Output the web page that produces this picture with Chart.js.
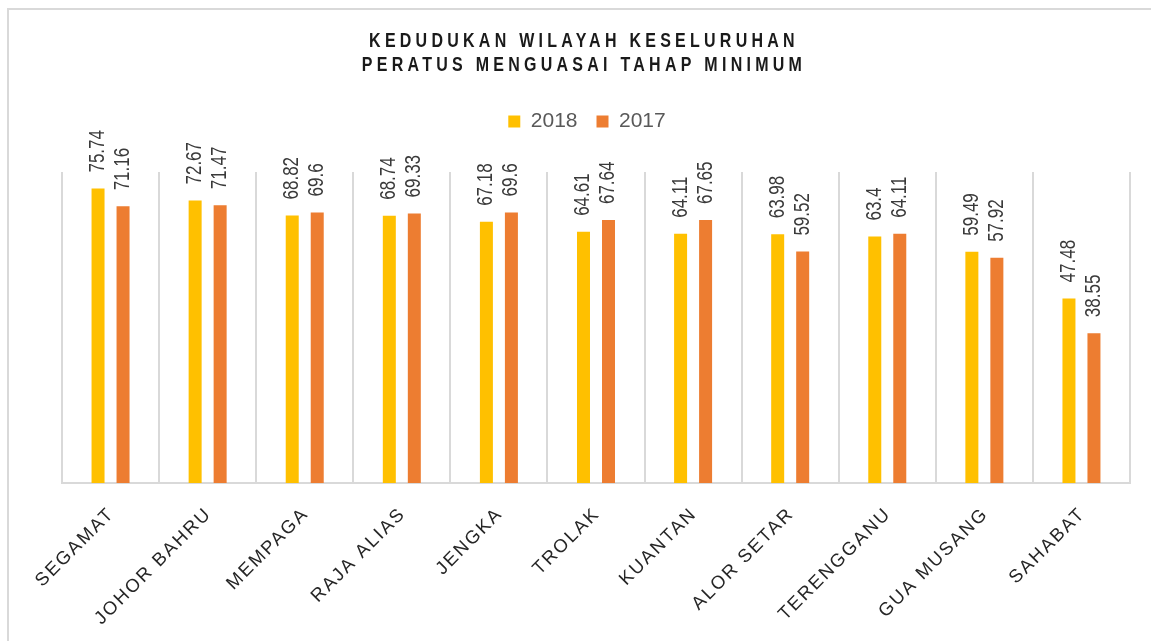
<!DOCTYPE html>
<html>
<head>
<meta charset="utf-8">
<script src="https://cdn.jsdelivr.net/npm/chart.js@4/dist/chart.umd.min.js"></script>
<style>
  html, body { margin: 0; padding: 0; background: #ffffff; overflow: hidden; }
  #wrap { position: relative; width: 1151px; height: 641px; }
</style>
</head>
<body>
<div id="wrap"><canvas id="c"></canvas></div>
<script>
const categories = ['SEGAMAT', 'JOHOR BAHRU', 'MEMPAGA', 'RAJA ALIAS', 'JENGKA', 'TROLAK', 'KUANTAN', 'ALOR SETAR', 'TERENGGANU', 'GUA MUSANG', 'SAHABAT'];
const values2018 = [75.74, 72.67, 68.82, 68.74, 67.18, 64.61, 64.11, 63.98, 63.4, 59.49, 47.48];
const values2017 = [71.16, 71.47, 69.6, 69.33, 69.6, 67.64, 67.65, 59.52, 64.11, 57.92, 38.55];
const seriesNames = ['2018', '2017'];
const titleLines = ['KEDUDUKAN WILAYAH KESELURUHAN', 'PERATUS MENGUASAI TAHAP MINIMUM'];
const yMin = 0;
const yMax = 80;

const SANS = '"Liberation Sans", Arial, sans-serif';

const decorPlugin = {
  id: 'decor',
  beforeLayout(chart) {
    const lg = chart.legend;
    if (lg && !lg._extraPatched) {
      const origFit = lg.fit;
      lg.fit = function () { origFit.call(this); this.height += 30; };
      lg._extraPatched = true;
    }
  },
  afterLayout(chart) {
    const lg = chart.legend;
    if (lg) { lg.left -= 18; }
  },
  beforeDraw(chart) {
    const ctx = chart.ctx;
    ctx.save();
    ctx.fillStyle = '#ffffff';
    ctx.fillRect(0, 0, chart.width, chart.height);
    ctx.strokeStyle = '#d9d9d9';
    ctx.lineWidth = 2;
    ctx.beginPath();
    ctx.moveTo(8, chart.height + 2);
    ctx.lineTo(8, 9);
    ctx.lineTo(chart.width + 2, 9);
    ctx.stroke();
    ctx.restore();
  },
  afterDatasetsDraw(chart) {
    const ctx = chart.ctx;
    ctx.save();
    ctx.fillStyle = '#3a3a3a';
    ctx.font = '21.5px ' + SANS;
    ctx.textAlign = 'left';
    ctx.textBaseline = 'middle';
    chart.data.datasets.forEach((ds, di) => {
      const meta = chart.getDatasetMeta(di);
      meta.data.forEach((bar, i) => {
        ctx.save();
        ctx.translate(bar.x, bar.y - 16);
        ctx.rotate(-Math.PI / 2);
        ctx.scale(0.79, 1);
        ctx.fillText(String(ds.data[i]), 0, 0);
        ctx.restore();
      });
    });
    ctx.restore();
  },
  afterDraw(chart) {
    const ctx = chart.ctx;
    const xs = chart.scales.x;
    // category labels
    ctx.save();
    ctx.fillStyle = '#262626';
    ctx.font = '18.5px ' + SANS;
    ctx.letterSpacing = '2px';
    ctx.textAlign = 'right';
    ctx.textBaseline = 'middle';
    categories.forEach((lab, i) => {
      const x = xs.getPixelForValue(i);
      ctx.save();
      ctx.translate(x + 1, chart.chartArea.bottom + 28);
      ctx.rotate(-Math.PI / 4);
      ctx.fillText(lab, 0, 0);
      ctx.restore();
    });
    ctx.restore();
    // title
    ctx.save();
    ctx.fillStyle = '#1a1a1a';
    ctx.font = 'bold 19.5px ' + SANS;
    ctx.letterSpacing = '5.2px';
    ctx.textAlign = 'center';
    ctx.textBaseline = 'middle';
    const cx = 584;
    [42, 66].forEach((ty, k) => {
      ctx.save();
      ctx.translate(cx, ty);
      ctx.scale(0.82, 1);
      ctx.fillText(titleLines[k], 0, 0);
      ctx.restore();
    });
    ctx.restore();
  }
};

new Chart(document.getElementById('c'), {
  type: 'bar',
  data: {
    labels: categories,
    datasets: [
      { label: seriesNames[0], data: values2018, backgroundColor: '#FFC000', borderWidth: 0,
        categoryPercentage: 0.515, barPercentage: 0.52 },
      { label: seriesNames[1], data: values2017, backgroundColor: '#ED7D31', borderWidth: 0,
        categoryPercentage: 0.515, barPercentage: 0.52 }
    ]
  },
  options: {
    responsive: true,
    maintainAspectRatio: false,
    animation: false,
    layout: { padding: { left: 62, right: 21, top: 92, bottom: 158 } },
    plugins: {
      title: { display: false },
      tooltip: { enabled: false },
      legend: {
        display: true,
        position: 'top',
        labels: {
          boxWidth: 12,
          boxHeight: 12,
          padding: 19,
          color: '#595959',
          font: { size: 21, family: SANS }
        }
      }
    },
    scales: {
      x: {
        offset: true,
        grid: { display: true, offset: true, color: '#d9d9d9', lineWidth: 2, drawTicks: false },
        border: { display: true, color: '#d9d9d9', width: 2 },
        ticks: { display: false }
      },
      y: {
        display: false,
        min: yMin,
        max: yMax
      }
    }
  },
  plugins: [decorPlugin]
});
</script>
</body>
</html>
